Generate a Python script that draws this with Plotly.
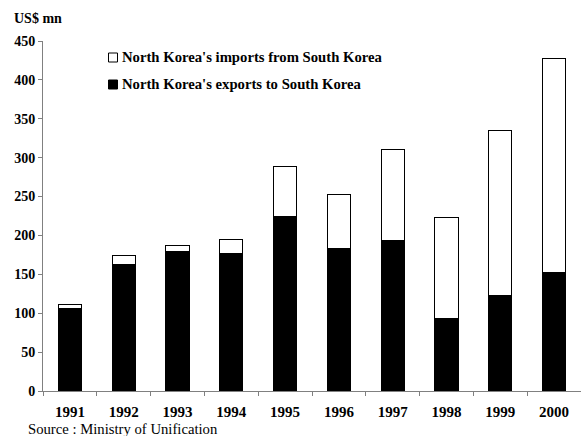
import plotly.graph_objects as go

years = ["1991", "1992", "1993", "1994", "1995", "1996", "1997", "1998", "1999", "2000"]
exports_to_sk = [106, 163, 179, 177, 224, 183, 194, 93, 123, 153]
totals = [111, 174, 187, 195, 289, 253, 310, 223, 335, 427]
imports_from_sk = [t - e for t, e in zip(totals, exports_to_sk)]

y_ticks = [0, 50, 100, 150, 200, 250, 300, 350, 400, 450]

FONT = "Liberation Serif"
W, H = 581, 436
L, R, T, B = 43, 0, 41, 45
pw, ph = W - L - R, H - T - B

fig = go.Figure()
fig.add_trace(go.Bar(
    x=years, y=exports_to_sk, name="North Korea's exports to South Korea",
    marker=dict(color="black", line=dict(color="black", width=1)), width=0.43,
))
fig.add_trace(go.Bar(
    x=years, y=imports_from_sk, name="North Korea's imports from South Korea",
    marker=dict(color="white", line=dict(color="black", width=1)), width=0.43,
))

def px(x):
    return (x - L) / pw

def py(y):
    return (H - B - y) / ph

annotations = [
    dict(text="US$ mn", x=px(12), y=py(18), xref="paper", yref="paper",
         xanchor="left", yanchor="middle", showarrow=False,
         font=dict(family=FONT, size=14, color="black", weight="bold")),
    dict(text="Source : Ministry of Unification", x=px(26), y=py(428.5), xref="paper", yref="paper",
         xanchor="left", yanchor="middle", showarrow=False,
         font=dict(family=FONT, size=14.7, color="black")),
    dict(text="North Korea's imports from South Korea", x=px(119.5), y=py(57), xref="paper", yref="paper",
         xanchor="left", yanchor="middle", showarrow=False,
         font=dict(family=FONT, size=14.7, color="black", weight="bold")),
    dict(text="North Korea's exports to South Korea", x=px(119.5), y=py(84), xref="paper", yref="paper",
         xanchor="left", yanchor="middle", showarrow=False,
         font=dict(family=FONT, size=14.7, color="black", weight="bold")),
]
shapes = [
    dict(type="rect", xref="paper", yref="paper", x0=px(108.5), x1=px(117.5), y0=py(62), y1=py(53),
         line=dict(color="black", width=1), fillcolor="white"),
    dict(type="rect", xref="paper", yref="paper", x0=px(108.5), x1=px(117.5), y0=py(89), y1=py(80),
         line=dict(color="black", width=1), fillcolor="black"),
]

fig.update_layout(
    width=W, height=H, margin=dict(l=L, r=R, t=T, b=B),
    barmode="stack", showlegend=False,
    plot_bgcolor="white", paper_bgcolor="white",
    annotations=annotations, shapes=shapes,
    xaxis=dict(type="category", range=[-0.5, 9.5], showline=True, linecolor="#808080", linewidth=1,
               ticks="outside", tickson="boundaries", ticklen=4, tickcolor="#808080",
               ticklabelstandoff=7,
               showgrid=False, zeroline=False,
               tickfont=dict(family=FONT, size=15, color="black", weight="bold")),
    yaxis=dict(range=[0, 450], tickvals=y_ticks, showline=True, linecolor="#808080", linewidth=1,
               ticks="outside", ticklen=4, tickcolor="#808080", showgrid=False, zeroline=False,
               tickfont=dict(family=FONT, size=14, color="black", weight="bold")),
)

fig.write_html("out.html")
